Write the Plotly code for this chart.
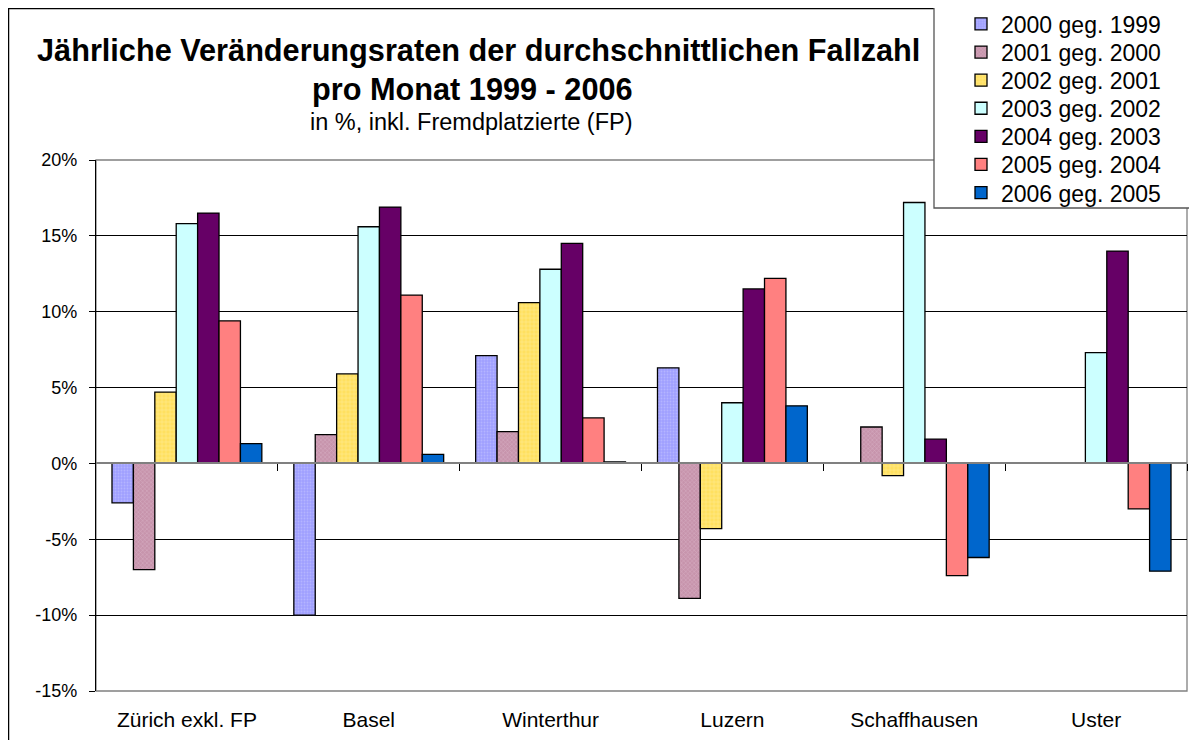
import plotly.graph_objects as go

categories = ["Zürich exkl. FP", "Basel", "Winterthur", "Luzern", "Schaffhausen", "Uster"]
series_names = ["2000 geg. 1999", "2001 geg. 2000", "2002 geg. 2001", "2003 geg. 2002",
                "2004 geg. 2003", "2005 geg. 2004", "2006 geg. 2005"]
v2000 = [-2.6, -10.0, 7.1, 6.3, None, None]
v2001 = [-7.0, 1.9, 2.1, -8.9, 2.4, None]
v2002 = [4.7, 5.9, 10.6, -4.3, -0.8, None]
v2003 = [15.8, 15.6, 12.8, 4.0, 17.2, 7.3]
v2004 = [16.5, 16.9, 14.5, 11.5, 1.6, 14.0]
v2005 = [9.4, 11.1, 3.0, 12.2, -7.4, -3.0]
v2006 = [1.3, 0.6, 0.1, 3.8, -6.2, -7.1]
series_values = [v2000, v2001, v2002, v2003, v2004, v2005, v2006]
y_tickvals = [-15, -10, -5, 0, 5, 10, 15, 20]
y_ticktext = ["-15%", "-10%", "-5%", "0%", "5%", "10%", "15%", "20%"]

styles = [
    dict(color="#A8A8FF", pattern=dict(shape=".", fgcolor="#C8C8FF", bgcolor="#A0A0FF", size=3, solidity=0.3)),
    dict(color="#D0A0B8", pattern=dict(shape="x", fgcolor="#E6C6D6", bgcolor="#C794AC", size=3, solidity=0.3)),
    dict(color="#FFE677", pattern=dict(shape="+", fgcolor="#FFF3B0", bgcolor="#FFE060", size=4, solidity=0.3)),
    dict(color="#CCFFFF"),
    dict(color="#660066"),
    dict(color="#FF8080"),
    dict(color="#0066CC"),
]

FONT = "Arial, Liberation Sans, sans-serif"

W, H = 1197, 740
ml, mr, mt, mb = 88, 18, 152, 57
pw = W - ml - mr
ph = H - mt - mb


def px(x):
    return (x - ml) / pw


def py(y):
    return (H - mb - y) / ph


fig = go.Figure()
legend_defs = {}
for i, (name, vals, st) in enumerate(zip(series_names, series_values, styles)):
    marker = dict(color=st["color"], line=dict(color="black", width=1.3))
    if "pattern" in st:
        marker["pattern"] = st["pattern"]
    lname = "legend" if i == 0 else f"legend{i + 1}"
    fig.add_trace(go.Bar(name=name, x=categories, y=vals, marker=marker, legend=lname))
    legend_defs[lname] = dict(
        x=px(953), xanchor="left", y=py(16 + 28.1 * i), yanchor="middle",
        bgcolor="rgba(0,0,0,0)", borderwidth=0,
        font=dict(family=FONT, size=23, color="black"))

# invisible helper trace for the category axis drawn at the zero line
fig.add_trace(go.Scatter(x=[0.5], y=[0], xaxis="x2", mode="markers",
                         marker=dict(opacity=0), showlegend=False, hoverinfo="skip"))

fig.update_layout(
    width=W, height=H,
    margin=dict(l=ml, r=mr, t=mt, b=mb, pad=0, autoexpand=False),
    paper_bgcolor="white", plot_bgcolor="white",
    barmode="group", bargap=0.176, bargroupgap=0,
    font=dict(family=FONT, color="black", size=18),
    showlegend=True,
    xaxis=dict(type="category", showgrid=False, showline=False, ticks="",
               tickfont=dict(family=FONT, size=21), ticklabelstandoff=14,
               zeroline=False, automargin=False),
    xaxis2=dict(overlaying="x", anchor="free", position=15 / 35, range=[-0.5, 5.5],
                tickvals=[0.5, 1.5, 2.5, 3.5, 4.5, 5.5], ticks="outside", ticklen=7,
                tickcolor="black", tickwidth=1, showticklabels=False, showgrid=False,
                showline=True, linecolor="#808080", linewidth=2, zeroline=False,
                automargin=False),
    yaxis=dict(range=[-15, 20], tickvals=y_tickvals, ticktext=y_ticktext,
               showgrid=True, gridcolor="black", gridwidth=1,
               ticks="outside", ticklen=6, tickcolor="black",
               showline=True, linecolor="black", linewidth=1.3,
               zeroline=False, tickfont=dict(family=FONT, size=18),
               ticklabelstandoff=8, automargin=False),
    shapes=[
        # plot area border
        dict(type="rect", xref="paper", yref="paper", x0=0, x1=1, y0=0, y1=1,
             line=dict(color="#808080", width=1.3), layer="below"),
        # chart area border
        dict(type="rect", xref="paper", yref="paper", x0=px(0), x1=px(1215),
             y0=py(770), y1=py(0), line=dict(color="black", width=2.5)),
        # legend box
        dict(type="rect", xref="paper", yref="paper", x0=px(926), x1=px(1215),
             y0=py(200), y1=py(-10), fillcolor="white", line=dict(color="#555555", width=1.3)),
    ],
    annotations=[
        dict(text="<b>Jährliche Veränderungsraten der durchschnittlichen Fallzahl</b>",
             xref="paper", yref="paper", x=px(470), y=py(42), showarrow=False,
             xanchor="center", yanchor="middle", font=dict(family=FONT, size=30.7)),
        dict(text="<b>pro Monat 1999 - 2006</b>",
             xref="paper", yref="paper", x=px(464), y=py(82), showarrow=False,
             xanchor="center", yanchor="middle", font=dict(family=FONT, size=30.7)),
        dict(text="in %, inkl. Fremdplatzierte (FP)",
             xref="paper", yref="paper", x=px(463), y=py(114), showarrow=False,
             xanchor="center", yanchor="middle", font=dict(family=FONT, size=23.5)),
    ],
    **legend_defs,
)

fig.write_html("out.html")
